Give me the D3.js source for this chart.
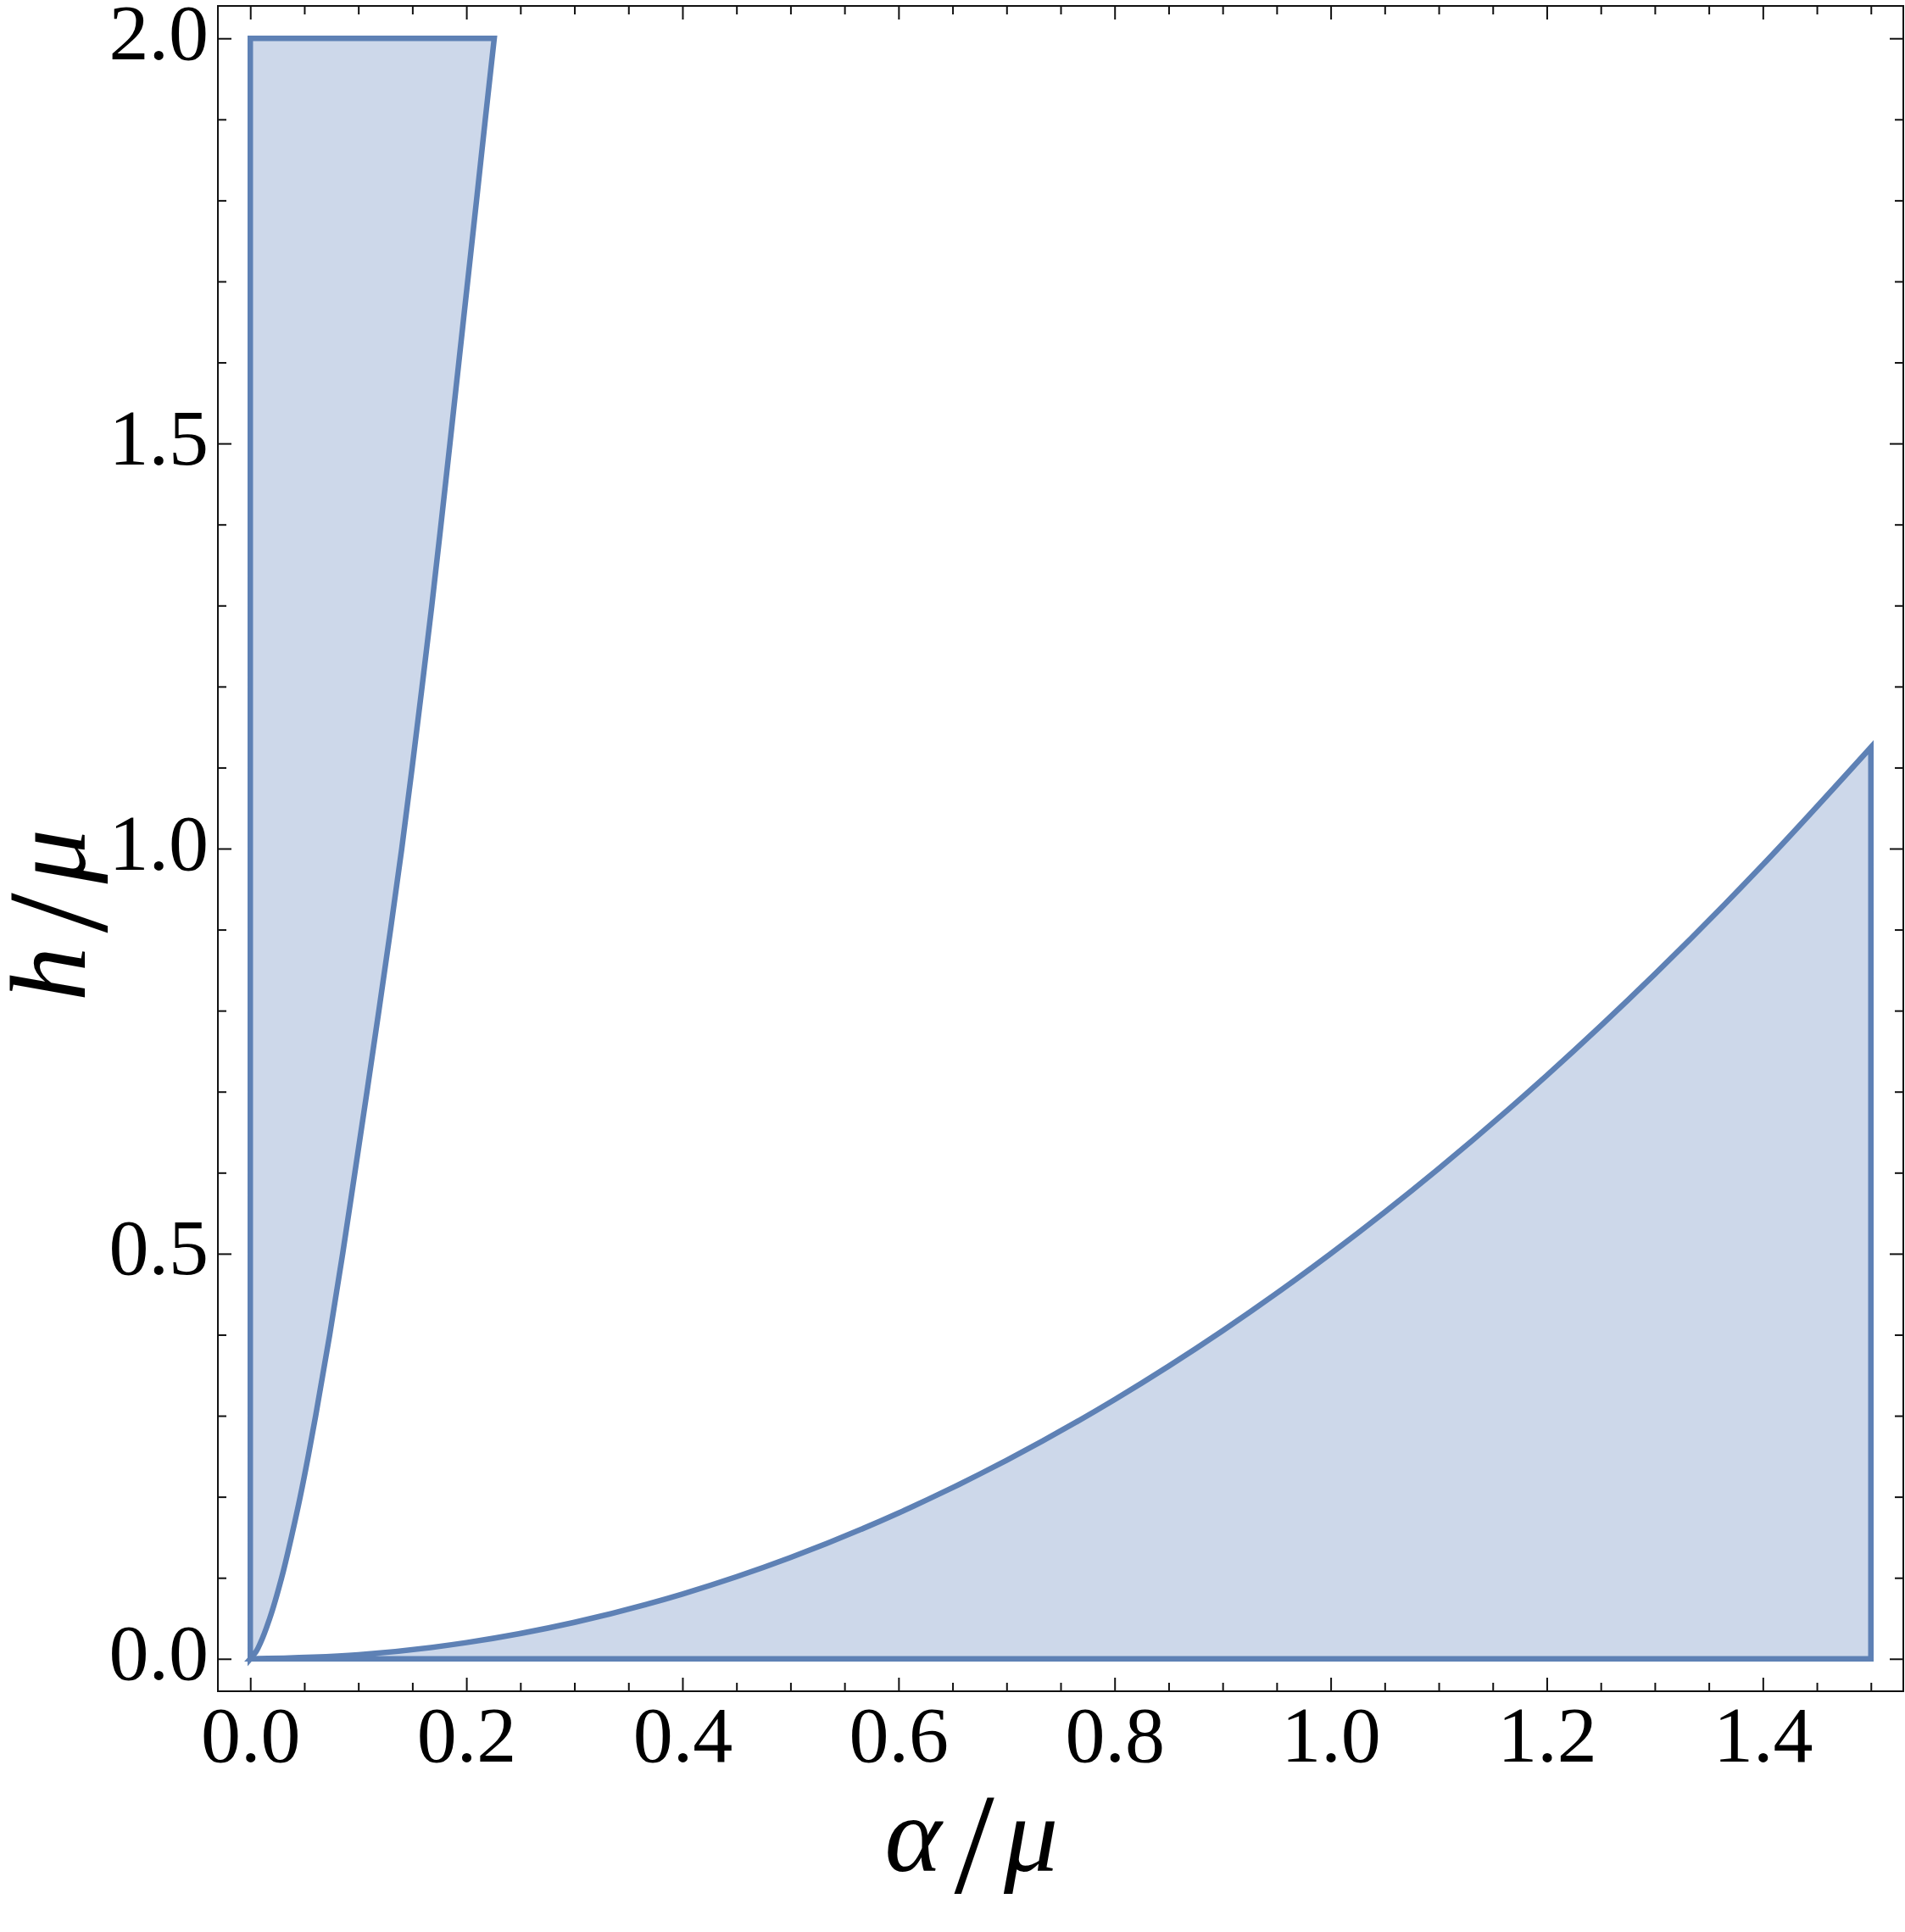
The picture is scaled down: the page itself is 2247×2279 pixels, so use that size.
<!DOCTYPE html>
<html>
<head>
<meta charset="utf-8">
<script src="https://cdn.jsdelivr.net/npm/d3@7"></script>
<style>
  body { margin: 0; background: #fff; }
</style>
</head>
<body>
<div id="chart"></div>
<script>
// Upper boundary of the left region, read as alpha for each h
var upperH = [0, 0.01, 0.02, 0.05, 0.1, 0.15, 0.2, 0.25, 0.3, 0.4, 0.5, 0.6, 0.7, 0.8, 0.9, 1.0,
              1.1, 1.2, 1.3, 1.4, 1.5, 1.6, 1.7, 1.8, 1.9, 2.0];
var upperAlpha = [0, 0.0058, 0.0095, 0.018, 0.029, 0.038, 0.0462, 0.0536, 0.0605, 0.0735, 0.0855, 0.0968, 0.108, 0.119, 0.1298, 0.1402,
                  0.1498, 0.159, 0.168, 0.1765, 0.1848, 0.193, 0.2012, 0.2094, 0.2175, 0.2258];

// Boundary of the lower right region, h for each alpha
var lowerAlpha = [0, 0.1, 0.2, 0.3, 0.4, 0.5, 0.6, 0.7, 0.8, 0.9, 1.0, 1.1, 1.2, 1.3, 1.4, 1.5];
var lowerH = [0, 0.005, 0.02, 0.045, 0.08, 0.125, 0.18, 0.245, 0.32, 0.405, 0.5, 0.605, 0.72, 0.845, 0.98, 1.125];

// ticks
var xMajorTicks = [0, 0.2, 0.4, 0.6, 0.8, 1.0, 1.2, 1.4];
var xMinorTicks = [0.05, 0.1, 0.15, 0.25, 0.3, 0.35, 0.45, 0.5, 0.55, 0.65, 0.7, 0.75, 0.85, 0.9, 0.95,
                   1.05, 1.1, 1.15, 1.25, 1.3, 1.35, 1.45, 1.5];
var yMajorTicks = [0, 0.5, 1.0, 1.5, 2.0];
var yMinorTicks = [0.1, 0.2, 0.3, 0.4, 0.6, 0.7, 0.8, 0.9, 1.1, 1.2, 1.3, 1.4, 1.6, 1.7, 1.8, 1.9];

var svgWidth = 2247;
var svgHeight = 2279;

var frame = { left: 257, top: 7, right: 2245, bottom: 1995 };

var blue = "#5e81b5";
var fillBlue = "#cdd8ea";
var serif = "'Liberation Serif', 'Times New Roman', serif";

var svg = d3.select("#chart")
    .append("svg")
    .attr("width", svgWidth)
    .attr("height", svgHeight);

var xScale = d3.scaleLinear()
    .domain([-0.03, 1.53])
    .range([frame.left, frame.right]);
var yScale = d3.scaleLinear()
    .domain([-0.04, 2.04])
    .range([frame.bottom, frame.top]);

// upper curve is smooth in h, lower one in alpha
var lineUp = d3.line()
    .x(d => xScale(d[0]))
    .y(d => yScale(d[1]))
    .curve(d3.curveMonotoneY);
var lineLow = d3.line()
    .x(d => xScale(d[0]))
    .y(d => yScale(d[1]))
    .curve(d3.curveMonotoneX);

// left region: curve, top edge h=2, alpha=0 edge
var upperPts = upperH.map((h, i) => [upperAlpha[i], h]);
var leftPath = lineUp(upperPts) +
    "L" + xScale(0) + "," + yScale(2) +
    "L" + xScale(0) + "," + yScale(0) + "Z";

// lower region: curve, alpha=1.5 edge, h=0 edge
var lowerPts = lowerAlpha.map((a, i) => [a, lowerH[i]]);
var lastA = lowerAlpha[lowerAlpha.length - 1];
var lowerPath = lineLow(lowerPts) +
    "L" + xScale(lastA) + "," + yScale(0) +
    "L" + xScale(0) + "," + yScale(0) + "Z";

svg.selectAll("path.region")
    .data([leftPath, lowerPath])
    .enter()
    .append("path")
    .attr("class", "region")
    .attr("d", d => d)
    .attr("fill", fillBlue)
    .attr("stroke", blue)
    .attr("stroke-width", 6.5)
    .attr("stroke-linejoin", "miter")
    .attr("stroke-miterlimit", 6);

// frame
svg.append("rect")
    .attr("x", frame.left)
    .attr("y", frame.top)
    .attr("width", frame.right - frame.left)
    .attr("height", frame.bottom - frame.top)
    .attr("fill", "none")
    .attr("stroke", "#111")
    .attr("stroke-width", 2);

function styleAxis(g) {
    g.select(".domain").remove();
    g.selectAll("line").attr("stroke", "#111").attr("stroke-width", 2);
    g.attr("font-family", serif).attr("font-size", 94);
    g.selectAll("text").attr("fill", "#000");
}

var fmt = d3.format(".1f");

// bottom
svg.append("g")
    .attr("transform", "translate(0," + frame.bottom + ")")
    .call(d3.axisBottom(xScale).tickValues(xMajorTicks).tickSize(-16).tickFormat(fmt))
    .call(styleAxis)
    .call(g => g.selectAll("text").attr("y", 83).attr("dy", null));
svg.append("g")
    .attr("transform", "translate(0," + frame.bottom + ")")
    .call(d3.axisBottom(xScale).tickValues(xMinorTicks).tickSize(-10).tickFormat(""))
    .call(styleAxis);

// top
svg.append("g")
    .attr("transform", "translate(0," + frame.top + ")")
    .call(d3.axisTop(xScale).tickValues(xMajorTicks).tickSize(-16).tickFormat(""))
    .call(styleAxis);
svg.append("g")
    .attr("transform", "translate(0," + frame.top + ")")
    .call(d3.axisTop(xScale).tickValues(xMinorTicks).tickSize(-10).tickFormat(""))
    .call(styleAxis);

// left
svg.append("g")
    .attr("transform", "translate(" + frame.left + ",0)")
    .call(d3.axisLeft(yScale).tickValues(yMajorTicks).tickSize(-16).tickFormat(fmt))
    .call(styleAxis)
    .call(g => g.selectAll("text").attr("x", -11).attr("y", 24).attr("dy", null));
svg.append("g")
    .attr("transform", "translate(" + frame.left + ",0)")
    .call(d3.axisLeft(yScale).tickValues(yMinorTicks).tickSize(-10).tickFormat(""))
    .call(styleAxis);

// right
svg.append("g")
    .attr("transform", "translate(" + frame.right + ",0)")
    .call(d3.axisRight(yScale).tickValues(yMajorTicks).tickSize(-16).tickFormat(""))
    .call(styleAxis);
svg.append("g")
    .attr("transform", "translate(" + frame.right + ",0)")
    .call(d3.axisRight(yScale).tickValues(yMinorTicks).tickSize(-10).tickFormat(""))
    .call(styleAxis);

// axis labels: italic symbol / italic symbol
function fracLabel(g, a, b) {
    g.attr("font-family", serif).attr("text-anchor", "middle").attr("fill", "#000");
    g.append("text").attr("x", -69).attr("font-size", 128).attr("font-style", "italic").text(a);
    g.append("text").attr("x", 3).attr("y", 25).attr("font-size", 170).text("/");
    g.append("text").attr("x", 70).attr("font-size", 128).attr("font-style", "italic").text(b);
}

svg.append("g")
    .attr("transform", "translate(1146,2207)")
    .call(g => fracLabel(g, "α", "μ"));

svg.append("g")
    .attr("transform", "translate(100,1080) rotate(-90)")
    .call(g => fracLabel(g, "h", "μ"));
</script>
</body>
</html>
